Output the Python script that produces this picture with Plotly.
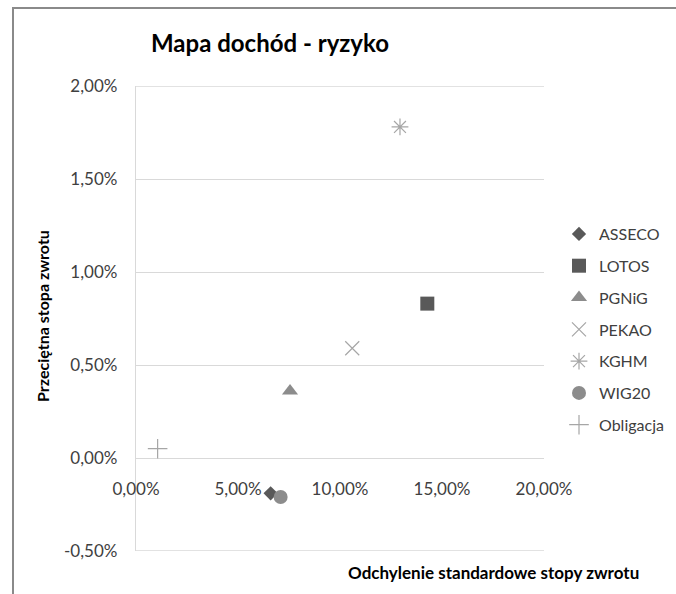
import plotly.graph_objects as go

# ---- data ----
series_names = ["ASSECO", "LOTOS", "PGNiG", "PEKAO", "KGHM", "WIG20", "Obligacja"]
risk_std = [0.0660, 0.1428, 0.0755, 0.1060, 0.1294, 0.0709, 0.0106]      # x: odchylenie standardowe
avg_return = [-0.0019, 0.0083, 0.0036, 0.0059, 0.0178, -0.0021, 0.0005]  # y: przecietna stopa zwrotu

x_tickvals = [0.0, 0.05, 0.10, 0.15, 0.20]
x_ticktext = ["0,00%", "5,00%", "10,00%", "15,00%", "20,00%"]
y_tickvals = [-0.005, 0.0, 0.005, 0.010, 0.015, 0.020]
y_ticktext = ["-0,50%", "0,00%", "0,50%", "1,00%", "1,50%", "2,00%"]

# ---- styles ----
symbols = ["diamond", "square", "triangle-up", "x-thin-open", "asterisk-open", "circle", "cross-thin-open"]
colors = ["#595959", "#595959", "#8c8c8c", "#a6a6a6", "#a6a6a6", "#8c8c8c", "#a6a6a6"]
sizes = [11, 14, 14, 14, 14, 14, 14]

FONT = "Lato"
GRID = "#d9d9d9"
L, R, T, B = 136, 132, 86, 43
PW, PH = 676 - L - R, 594 - T - B


def px_x(px):
    return (px - L) / PW


def px_y(py):
    return (594 - B - py) / PH


fig = go.Figure()
for i, name in enumerate(series_names):
    open_sym = symbols[i].endswith("-open")
    fig.add_trace(go.Scatter(
        x=[risk_std[i]], y=[avg_return[i]], mode="markers", name=name,
        legendgroup=name,
        marker=dict(symbol=symbols[i], size=sizes[i], color=colors[i],
                    line=dict(width=1.2 if open_sym else 0, color=colors[i])),
    ))

# edge gridlines (plotly drops gridlines lying exactly on the range ends)
edge_lines = [
    dict(type="line", xref="paper", yref="y", x0=0, x1=1, y0=v, y1=v,
         line=dict(color=GRID, width=1.3), layer="below")
    for v in (y_tickvals[0], y_tickvals[-1])
]

frame = [
    dict(type="line", xref="paper", yref="paper",
         x0=px_x(13), x1=px_x(13), y0=px_y(8), y1=px_y(594),
         line=dict(color="#8a8a8a", width=2)),
    dict(type="line", xref="paper", yref="paper",
         x0=px_x(12), x1=px_x(676), y0=px_y(8), y1=px_y(8),
         line=dict(color="#8a8a8a", width=2)),
]

fig.update_layout(
    width=676, height=594,
    margin=dict(l=L, r=R, t=T, b=B, autoexpand=False),
    paper_bgcolor="white", plot_bgcolor="white",
    font=dict(family=FONT, size=16, color="#404040"),
    title=dict(text="<b>Mapa dochód - ryzyko</b>", x=270 / 676, xanchor="center",
               y=1 - 44 / 594, yanchor="middle", xref="container", yref="container",
               font=dict(family=FONT, size=24, color="#000000")),
    showlegend=True,
    legend=dict(x=px_x(559), xanchor="left", y=px_y(217), yanchor="top",
                font=dict(family=FONT, size=16, color="#404040"),
                tracegroupgap=8, itemwidth=30, bgcolor="rgba(0,0,0,0)"),
    xaxis=dict(range=[0, 0.2], tickvals=x_tickvals, ticktext=x_ticktext,
               showgrid=False, zeroline=False, showline=False,
               anchor="free", position=0.2, ticks="", ticklabelstandoff=19,
               tickfont=dict(family=FONT, size=17, color="#404040")),
    yaxis=dict(range=[-0.005, 0.02], tickvals=y_tickvals, ticktext=y_ticktext,
               showgrid=True, gridcolor=GRID, gridwidth=1.3, zeroline=False,
               showline=True, linecolor=GRID, linewidth=1.3,
               ticks="", ticklabelstandoff=14,
               tickfont=dict(family=FONT, size=17, color="#404040")),
    annotations=[
        dict(text="<b>Przeciętna stopa zwrotu</b>", xref="paper", yref="paper",
             x=px_x(42), y=px_y(316), xanchor="center", yanchor="middle", textangle=-90,
             showarrow=False, font=dict(family=FONT, size=16, color="#000000")),
        dict(text="<b>Odchylenie standardowe stopy zwrotu</b>", xref="paper", yref="paper",
             x=px_x(493), y=px_y(572), xanchor="center", yanchor="middle", showarrow=False,
             font=dict(family=FONT, size=17, color="#000000")),
    ],
    shapes=edge_lines + frame,
)

fig.write_html(
    "out.html", config={"displayModeBar": False},
    post_script="document.documentElement.style.overflow='hidden';"
                "document.body.style.margin='0';document.body.style.overflow='hidden';")
